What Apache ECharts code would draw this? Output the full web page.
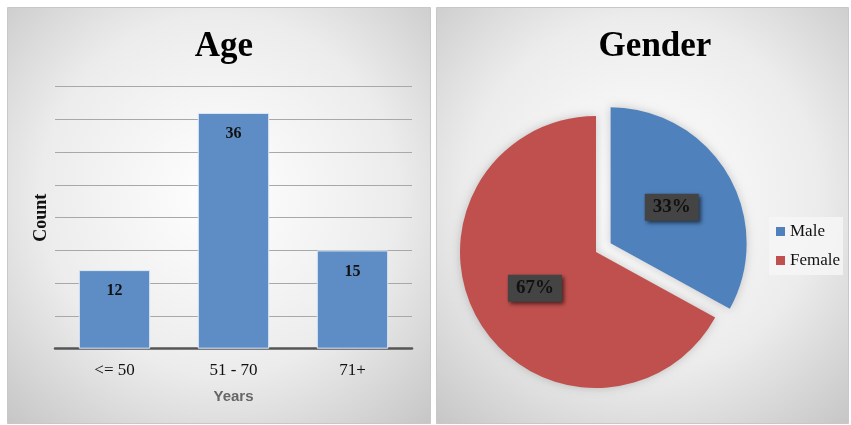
<!DOCTYPE html>
<html>
<head>
<meta charset="utf-8">
<script src="https://cdn.jsdelivr.net/npm/echarts@6/dist/echarts.min.js"></script>
<style>
  html, body { margin: 0; padding: 0; background: #ffffff; }
  #chart { width: 851px; height: 425px; }
</style>
</head>
<body>
<div id="chart"></div>
<script>
// Age distribution (bar chart)
const ageCategories = ['<= 50', '51 - 70', '71+'];
const ageCounts = [12, 36, 15];

// Gender split (pie chart)
const genderNames = ['Male', 'Female'];
const genderShares = [33, 67];
const genderColors = ['#4F81BD', '#C0504D'];

const serif = '"Liberation Serif", "Times New Roman", serif';
const sans = '"Liberation Sans", Arial, sans-serif';

function panelFill() {
  return {
    type: 'radial', x: 0.5, y: 0.45, r: 0.78,
    colorStops: [
      { offset: 0, color: '#ffffff' },
      { offset: 0.55, color: '#ececec' },
      { offset: 1, color: '#c2c2c2' }
    ]
  };
}

const chart = echarts.init(document.getElementById('chart'));

chart.setOption({
  animation: false,
  graphic: [
    { type: 'rect', z: -10, silent: true,
      shape: { x: 7.5, y: 7.5, width: 423, height: 416 },
      style: { fill: panelFill(), stroke: '#c8c8c8', lineWidth: 1 } },
    { type: 'rect', z: -10, silent: true,
      shape: { x: 436.5, y: 7.5, width: 412, height: 416 },
      style: { fill: panelFill(), stroke: '#c8c8c8', lineWidth: 1 } }
  ],
  title: [
    { text: 'Age', left: 219, top: 24, textAlign: 'center',
      textStyle: { fontFamily: serif, fontWeight: 'bold', fontSize: 35, color: '#000' } },
    { text: 'Gender', left: 650, top: 24, textAlign: 'center',
      textStyle: { fontFamily: serif, fontWeight: 'bold', fontSize: 35, color: '#000' } }
  ],
  legend: {
    orient: 'vertical',
    left: 769, top: 217,
    data: genderNames,
    icon: 'rect',
    itemWidth: 9, itemHeight: 9,
    itemGap: 12,
    padding: [6, 3, 6, 7],
    backgroundColor: 'rgba(246,246,246,0.85)',
    textStyle: { fontFamily: serif, fontSize: 17, color: '#111' }
  },
  grid: { left: 55, right: 439, top: 86.7, bottom: 76.3 },
  xAxis: {
    type: 'category',
    data: ageCategories,
    axisTick: { show: false },
    axisLine: { lineStyle: { color: '#555', width: 2.5 } },
    axisLabel: { fontFamily: serif, fontSize: 17, color: '#111', margin: 13 },
    name: 'Years',
    nameLocation: 'middle',
    nameGap: 41,
    nameTextStyle: { fontFamily: sans, fontWeight: 'bold', fontSize: 15, color: '#666' }
  },
  yAxis: {
    type: 'value',
    min: 0, max: 40, interval: 5,
    axisLabel: { show: false },
    axisLine: { show: false },
    axisTick: { show: false },
    splitLine: { lineStyle: { color: '#a8a8a8', width: 1 } },
    name: 'Count',
    nameLocation: 'middle',
    nameGap: 5,
    nameTextStyle: { fontFamily: serif, fontWeight: 'bold', fontSize: 18, color: '#111' }
  },
  series: [
    {
      type: 'bar',
      data: ageCounts,
      barCategoryGap: '40%',
      itemStyle: { color: '#5E8DC5', borderColor: '#dfe9f5', borderWidth: 1 },
      label: {
        show: true, position: 'insideTop', distance: 13,
        fontFamily: serif, fontWeight: 'bold', fontSize: 16, color: '#111'
      }
    },
    {
      type: 'pie',
      center: [596, 252],
      radius: 136,
      startAngle: 90,
      clockwise: true,
      selectedMode: 'single',
      selectedOffset: 17,
      itemStyle: { shadowBlur: 10, shadowColor: 'rgba(0,0,0,0.2)' },
      label: {
        show: true,
        position: 'inside',
        formatter: '{c}%',
        fontFamily: serif, fontWeight: 'bold', fontSize: 19, color: '#111',
        backgroundColor: '#444444',
        padding: [5, 8, 3, 8],
        shadowBlur: 4, shadowColor: 'rgba(0,0,0,0.6)', shadowOffsetX: 2, shadowOffsetY: 2
      },
      labelLine: { show: false },
      emphasis: { disabled: true },
      data: genderNames.map((n, i) => ({
        name: n,
        value: genderShares[i],
        selected: i === 0,
        itemStyle: { color: genderColors[i] }
      }))
    }
  ]
});
</script>
</body>
</html>
